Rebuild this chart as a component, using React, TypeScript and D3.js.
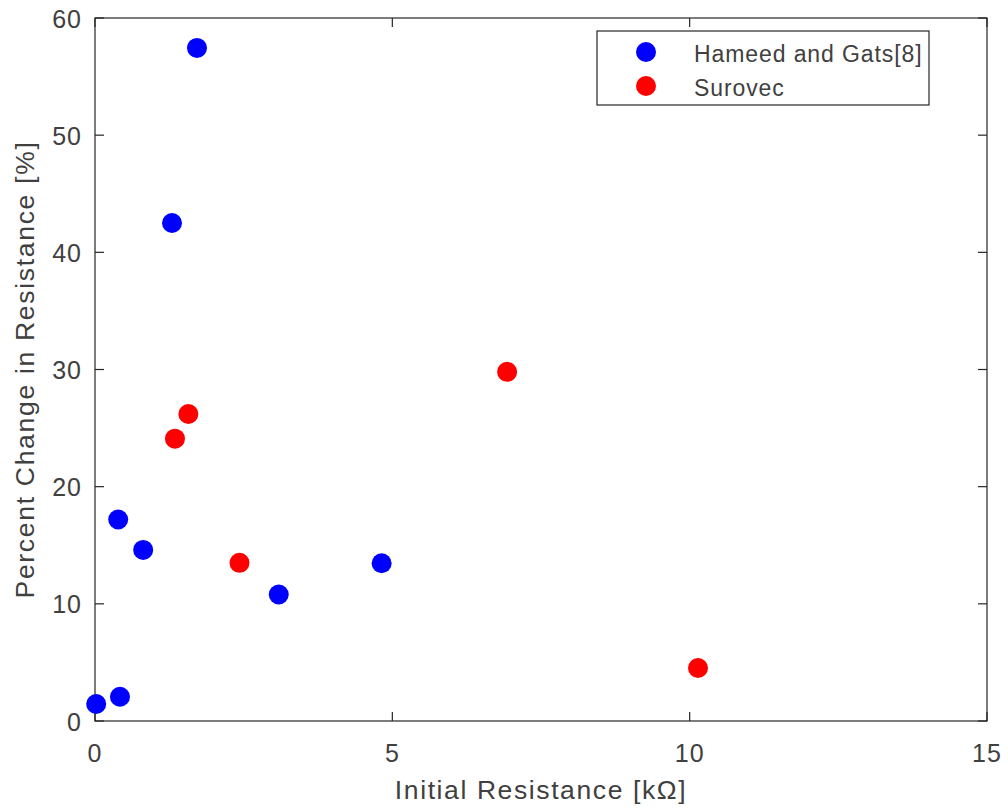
import React from "react";
import * as d3 from "d3";

const hameedX = [1.715, 1.295, 0.39, 0.81, 3.09, 4.82, 0.02, 0.42];
const hameedY = [57.45, 42.5, 17.2, 14.6, 10.8, 13.46, 1.45, 2.07];
const surovecX = [1.345, 1.57, 2.43, 6.93, 10.14];
const surovecY = [24.1, 26.2, 13.5, 29.8, 4.52];
const xTicks = [0, 5, 10, 15];
const yTicks = [0, 10, 20, 30, 40, 50, 60];
const seriesNames = ["Hameed and Gats[8]", "Surovec"];
const seriesColors = ["#0000ff", "#ff0000"];

export default function App() {
  const W = 1008, H = 808;
  const left = 95, right = 987, top = 18, bottom = 721;
  const x = d3.scaleLinear().domain([0, 15]).range([left, right]);
  const y = d3.scaleLinear().domain([0, 60]).range([bottom, top]);
  const axisColor = "#262626";
  const textColor = "#404040";
  const font = "'Liberation Sans', Arial, sans-serif";
  const tl = 9;
  const series = [
    { xs: hameedX, ys: hameedY },
    { xs: surovecX, ys: surovecY },
  ];
  return (
    <svg width={W} height={H} style={{ position: "absolute", left: 0, top: 0 }}>
      <rect x={0} y={0} width={W} height={H} fill="#fff" />
      <rect x={left} y={top} width={right - left} height={bottom - top} fill="#fff" stroke={axisColor} strokeWidth={1.2} />
      {xTicks.map((t) => (
        <g key={"x" + t}>
          <line x1={x(t)} x2={x(t)} y1={bottom} y2={bottom - tl} stroke={axisColor} strokeWidth={1.2} />
          <line x1={x(t)} x2={x(t)} y1={top} y2={top + tl} stroke={axisColor} strokeWidth={1.2} />
          <text x={x(t)} y={762} textAnchor="middle" fontFamily={font} fontSize={25} letterSpacing={1} fill={textColor}>{t}</text>
        </g>
      ))}
      {yTicks.map((t) => (
        <g key={"y" + t}>
          <line x1={left} x2={left + tl} y1={y(t)} y2={y(t)} stroke={axisColor} strokeWidth={1.2} />
          <line x1={right} x2={right - tl} y1={y(t)} y2={y(t)} stroke={axisColor} strokeWidth={1.2} />
          <text x={82} y={y(t) + 9.5} textAnchor="end" fontFamily={font} fontSize={25} letterSpacing={1} fill={textColor}>{t}</text>
        </g>
      ))}
      {series.map((s, i) =>
        s.xs.map((v, j) => (
          <circle key={i + "-" + j} cx={x(v)} cy={y(s.ys[j])} r={10} fill={seriesColors[i]} />
        ))
      )}
      <text x={(left + right) / 2} y={799} textAnchor="middle" fontFamily={font} fontSize={26.5} letterSpacing={1.6} fill={textColor}>Initial Resistance [kΩ]</text>
      <text transform={`translate(34, ${(top + bottom) / 2}) rotate(-90)`} textAnchor="middle" fontFamily={font} fontSize={26.5} letterSpacing={1.7} fill={textColor}>Percent Change in Resistance [%]</text>
      <rect x={597} y={31} width={332} height={74} fill="#fff" stroke={axisColor} strokeWidth={1.2} />
      {seriesNames.map((n, i) => (
        <g key={n}>
          <circle cx={646} cy={52 + i * 34} r={10} fill={seriesColors[i]} />
          <text x={694} y={52 + i * 34 + 9.5} fontFamily={font} fontSize={23} letterSpacing={0.9} fill={textColor}>{n}</text>
        </g>
      ))}
    </svg>
  );
}
